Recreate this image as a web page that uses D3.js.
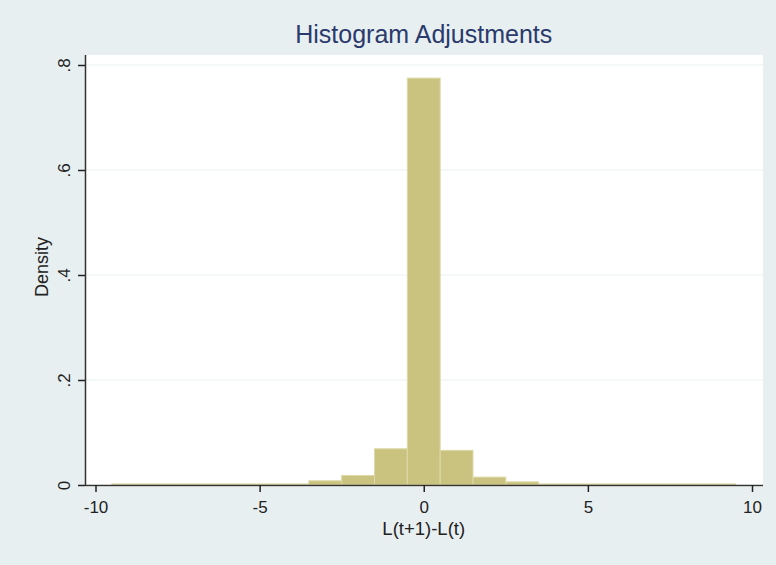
<!DOCTYPE html>
<html>
<head>
<meta charset="utf-8">
<script src="https://cdn.jsdelivr.net/npm/d3@7"></script>
<style>
html,body{margin:0;padding:0;background:#e8eff1;}
svg{display:block;}
text{font-family:"Liberation Sans",Arial,sans-serif;}
</style>
</head>
<body>
<script>
// Data: histogram bins (left edge) and density heights
const binStarts = [-9.5,-8.5,-7.5,-6.5,-5.5,-4.5,-3.5,-2.5,-1.5,-0.5,0.5,1.5,2.5,3.5,4.5,5.5,6.5,7.5,8.5];
const binWidth = 1;
const densities = [0.002,0.002,0.002,0.002,0.002,0.002,0.008,0.018,0.069,0.775,0.066,0.015,0.006,0.002,0.002,0.002,0.002,0.002,0.002];
const xTicks = [-10,-5,0,5,10];
const xTickLabels = ["-10","-5","0","5","10"];
const yTicks = [0,0.2,0.4,0.6,0.8];
const yTickLabels = ["0",".2",".4",".6",".8"];
const title = "Histogram Adjustments";
const xTitle = "L(t+1)-L(t)";
const yTitle = "Density";

const W = 776, H = 565;
const svg = d3.select("body").append("svg").attr("width", W).attr("height", H);
svg.append("rect").attr("width", W).attr("height", H).attr("fill", "#e8eff1");

const plot = {left: 85, right: 763, top: 55, bottom: 487};
svg.append("rect").attr("x", plot.left).attr("y", plot.top)
  .attr("width", plot.right - plot.left).attr("height", plot.bottom - plot.top)
  .attr("fill", "#ffffff");

const x = d3.scaleLinear().domain([-10, 10]).range([95.5, 752]);
const y = d3.scaleLinear().domain([0, 0.8]).range([485, 65]);

// gridlines
svg.append("g").selectAll("line").data(yTicks.filter(d => d > 0)).join("line")
  .attr("x1", plot.left).attr("x2", plot.right)
  .attr("y1", d => y(d)).attr("y2", d => y(d))
  .attr("stroke", "#eaf2f3").attr("stroke-width", 1.2);

// bars
svg.append("g").selectAll("rect").data(binStarts.map((s, i) => ({s, v: densities[i]}))).join("rect")
  .attr("x", d => x(d.s))
  .attr("width", d => x(d.s + binWidth) - x(d.s))
  .attr("y", d => y(d.v))
  .attr("height", d => y(0) - y(d.v))
  .attr("fill", "#c9c37f")
  .attr("stroke", "#ddd9a8")
  .attr("stroke-width", 1);

// x axis
const xAxis = d3.axisBottom(x).tickValues(xTicks).tickSize(7).tickPadding(9)
  .tickFormat((d, i) => xTickLabels[i]);
const gx = svg.append("g").attr("transform", `translate(0,${y(0)})`).call(xAxis);
gx.select(".domain").attr("d", `M${plot.left},0.5H${plot.right}`).attr("stroke", "#333").attr("stroke-width", 1.5);
gx.selectAll(".tick line").attr("stroke", "#222").attr("stroke-width", 1.5);
gx.selectAll(".tick text").attr("font-size", 17).attr("fill", "#222")
  .attr("font-family", "Liberation Sans, Arial, sans-serif");

// y axis
const yAxis = d3.axisLeft(y).tickValues(yTicks).tickSize(7).tickPadding(0)
  .tickFormat((d, i) => yTickLabels[i]);
const gy = svg.append("g").attr("transform", `translate(${plot.left},0)`).call(yAxis);
gy.select(".domain").attr("d", `M0.5,${plot.top}V${y(0) + 1}`).attr("stroke", "#333").attr("stroke-width", 1.5);
gy.selectAll(".tick line").attr("stroke", "#222").attr("stroke-width", 1.5);
gy.selectAll(".tick text")
  .attr("font-size", 17).attr("fill", "#222")
  .attr("font-family", "Liberation Sans, Arial, sans-serif")
  .attr("x", null).attr("dy", null)
  .attr("text-anchor", "middle")
  .attr("transform", "translate(-24,0) rotate(-90)")
  .attr("dy", "0.5em");

// titles
svg.append("text").attr("x", x(0)).attr("y", 43).attr("text-anchor", "middle")
  .attr("font-size", 25).attr("fill", "#2a3a6c").text(title);
svg.append("text").attr("x", x(0)).attr("y", 535).attr("text-anchor", "middle")
  .attr("font-size", 18.5).attr("fill", "#222").text(xTitle);
svg.append("text").attr("transform", `translate(48,${267}) rotate(-90)`)
  .attr("text-anchor", "middle").attr("font-size", 18).attr("fill", "#222").text(yTitle);
</script>
</body>
</html>
